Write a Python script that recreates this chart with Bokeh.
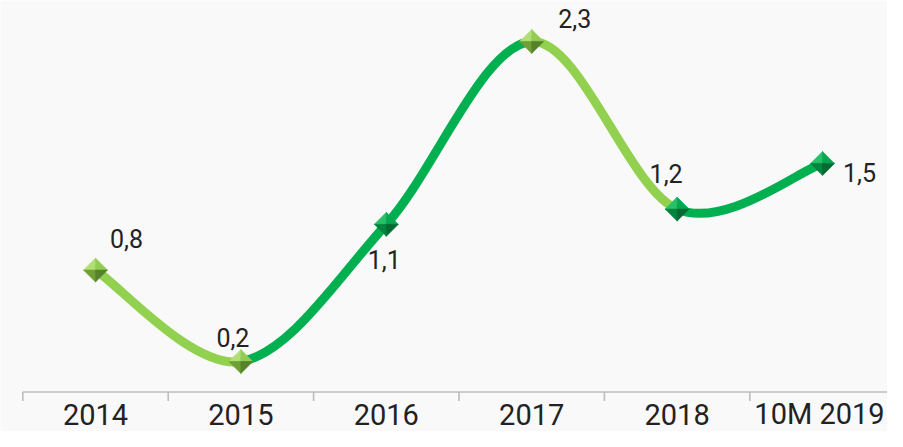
import numpy as np
from bokeh.plotting import figure
from bokeh.models import Range1d, ColumnDataSource
from bokeh.embed import file_html
from bokeh.resources import INLINE
from bokeh.core.properties import value

# ---- data ----
categories = ["2014", "2015", "2016", "2017", "2018", "10M 2019"]
values = [0.8, 0.2, 1.1, 2.3, 1.2, 1.5]
value_labels = ["0,8", "0,2", "1,1", "2,3", "1,2", "1,5"]

# ---- styles ----
BG = "#f9f9f9"
LIGHT = "#92d050"
DARK = "#00b050"
segment_colors = [LIGHT, DARK, DARK, LIGHT, DARK]
marker_tones = ["light", "light", "dark", "light", "dark", "dark"]
facets = {
    "light": ["#b0df76", "#93cc52", "#6f9f35", "#55822a"],
    "dark": ["#28c168", "#07a752", "#04853f", "#036a32"],
}
label_dx = [31, -8, -2, 43, -11, 37]
label_dy = [-32, -24, 35, -23, -36, 9]
cat_dx = [0, 0, 0, 0, 0, -3]
FONT = "Roboto"
TEXT_COLOR = "#222222"

W, H = 887, 431
PX_X = 145.4   # pixels per category
PX_Y = 152.4   # pixels per unit
X0 = -95 / PX_X
X1 = X0 + W / PX_X
Y1 = 391.5 / PX_Y
Y0 = Y1 - H / PX_Y
px_x = W / (X1 - X0)
px_y = H / (Y1 - Y0)

p = figure(width=W, height=H, x_range=Range1d(X0, X1), y_range=Range1d(Y0, Y1),
           output_backend="svg", toolbar_location=None,
           x_axis_location=None, y_axis_location=None, min_border=0,
           background_fill_color=BG, border_fill_color=BG, outline_line_color=None)
p.grid.grid_line_color = None

n = len(values)
xs = np.arange(n, dtype=float)
ys = np.array(values, dtype=float)

# ---- category axis (line, boundary ticks, labels) ----
p.segment(x0=[-0.5], y0=[0], x1=[n - 0.5], y1=[0], line_color="#bcbcbc", line_width=1.6)
bounds = np.arange(n + 1) - 0.5
tick_len = 9 / px_y
p.segment(x0=bounds, y0=np.zeros(n + 1), x1=bounds, y1=np.full(n + 1, -tick_len),
          line_color="#bcbcbc", line_width=1.6)
p.text(x=xs, y=np.zeros(n), text=categories, x_offset=cat_dx, y_offset=22,
       text_align="center", text_baseline="alphabetic", text_font=value(FONT),
       text_font_size="29px", text_color=TEXT_COLOR)

# ---- smoothed line (Catmull-Rom as cubic Bezier, computed in pixel space) ----
X = xs * px_x
Y = ys * px_y
Xp = np.concatenate([[X[0]], X, [X[-1]]])
Yp = np.concatenate([[Y[0]], Y, [Y[-1]]])
seg = dict(x0=[], y0=[], x1=[], y1=[], cx0=[], cy0=[], cx1=[], cy1=[], color=[])
for i in range(n - 1):
    a = i + 1
    c1x = Xp[a] + (Xp[a + 1] - Xp[a - 1]) / 6
    c1y = Yp[a] + (Yp[a + 1] - Yp[a - 1]) / 6
    c2x = Xp[a + 1] - (Xp[a + 2] - Xp[a]) / 6
    c2y = Yp[a + 1] - (Yp[a + 2] - Yp[a]) / 6
    seg["x0"].append(xs[i]); seg["y0"].append(ys[i])
    seg["x1"].append(xs[i + 1]); seg["y1"].append(ys[i + 1])
    seg["cx0"].append(c1x / px_x); seg["cy0"].append(c1y / px_y)
    seg["cx1"].append(c2x / px_x); seg["cy1"].append(c2y / px_y)
    seg["color"].append(segment_colors[i])
p.bezier(x0="x0", y0="y0", x1="x1", y1="y1", cx0="cx0", cy0="cy0", cx1="cx1", cy1="cy1",
         line_color="color", line_width=9, line_cap="round",
         source=ColumnDataSource(seg))

# ---- pyramid diamond markers ----
r = 12
dx = r / px_x
dy = r / px_y
pxs, pys, pcs = [], [], []
for i in range(n):
    cx, cy = xs[i], ys[i]
    top = (cx, cy + dy); bot = (cx, cy - dy); lef = (cx - dx, cy); rig = (cx + dx, cy)
    tris = [(top, lef), (top, rig), (lef, bot), (rig, bot)]
    cols = facets[marker_tones[i]]
    for (pa, pb), col in zip(tris, cols):
        pxs.append([cx, pa[0], pb[0]])
        pys.append([cy, pa[1], pb[1]])
        pcs.append(col)
p.patches(xs=pxs, ys=pys, fill_color=pcs, line_color=pcs, line_width=0.6)

# ---- value labels ----
p.text(x=xs, y=ys, text=value_labels, x_offset=label_dx, y_offset=label_dy,
       text_align="center", text_baseline="alphabetic", text_font=value(FONT),
       text_font_size="25px", text_color=TEXT_COLOR)

open("out.html", "w").write(file_html(p, INLINE))
